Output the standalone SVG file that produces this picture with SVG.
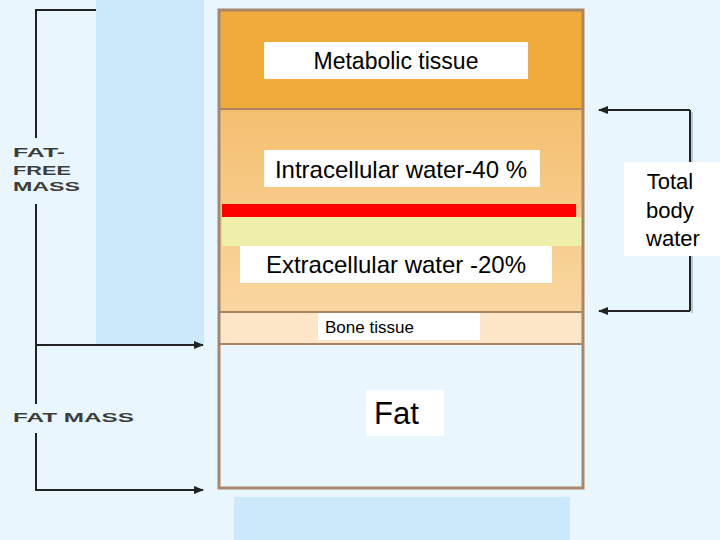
<svg xmlns="http://www.w3.org/2000/svg" width="720" height="540" viewBox="0 0 720 540">
  <defs>
    <style>
      .lbl { fill: #ffffff; }
      .t { font-family: "Liberation Sans", Arial, sans-serif; fill: #000000; }
      .side { font-family: "Liberation Sans", Arial, sans-serif; font-weight: bold; font-size: 12px; fill: #3c3c3c; }
      .conn { stroke: #222222; stroke-width: 2; fill: none; }
      .shadow { stroke: #b8c8d2; stroke-width: 2; fill: none; }
      .div { stroke: #a8835e; stroke-width: 2; }
    </style>
    <marker id="arr" viewBox="0 0 10 10" refX="9" refY="5" markerWidth="5" markerHeight="5" orient="auto" markerUnits="strokeWidth">
      <path d="M0,1 L10,5 L0,9 z" fill="#222222"/>
    </marker>
    <linearGradient id="water" x1="0" y1="0" x2="0" y2="1">
      <stop offset="0" stop-color="#f4bf70"/>
      <stop offset="1" stop-color="#f9d6a0"/>
    </linearGradient>
  </defs>

  <!-- background -->
  <rect x="0" y="0" width="720" height="540" fill="#e9f6fd"/>
  <rect x="96" y="0" width="108" height="344" fill="#cbe9fb"/>
  <rect x="234" y="497" width="336" height="43" fill="#cbe9fb"/>

  <g id="connectors">
    <polyline class="conn" points="96,10 36,10 36,138"/>
    <line class="conn" x1="36" y1="204" x2="36" y2="404"/>
    <line class="conn" x1="36" y1="345" x2="203" y2="345" marker-end="url(#arr)"/>
    <polyline class="conn" points="36,433 36,490 203,490" marker-end="url(#arr)"/>
    <line class="shadow" x1="692" y1="112" x2="692" y2="313"/>
    <line class="conn" x1="690" y1="110" x2="690" y2="311"/>
    <line class="conn" x1="690" y1="110" x2="599" y2="110" marker-end="url(#arr)"/>
    <line class="conn" x1="690" y1="311" x2="599" y2="311" marker-end="url(#arr)"/>
  </g>

  <!-- column sections -->
  <g id="metabolic">
    <rect x="219" y="10" width="364" height="99" fill="#f0ab3b"/>
    <rect class="lbl" x="264" y="42" width="264" height="37"/>
    <text class="t" x="396" y="69" font-size="23" text-anchor="middle">Metabolic tissue</text>
  </g>
  <g id="intracellular">
    <rect x="219" y="109" width="364" height="203" fill="url(#water)"/>
    <rect class="lbl" x="264" y="150" width="276" height="37"/>
    <text class="t" x="401" y="178" font-size="24" text-anchor="middle">Intracellular water-40 %</text>
  </g>
  <g id="membrane">
    <rect x="222" y="204" width="354" height="13" fill="#ff0000"/>
    <rect x="222" y="217" width="360" height="29" fill="#eef0a9"/>
  </g>
  <g id="extracellular">
    <rect class="lbl" x="240" y="246" width="312" height="37"/>
    <text class="t" x="396" y="273" font-size="24" text-anchor="middle">Extracellular water -20%</text>
  </g>
  <g id="bone">
    <rect x="219" y="312" width="364" height="32" fill="#fde5c8"/>
    <rect class="lbl" x="318" y="312" width="162" height="28"/>
    <text class="t" x="325" y="333" font-size="17">Bone tissue</text>
  </g>
  <g id="fat">
    <rect x="219" y="344" width="364" height="144" fill="#e9f6fd"/>
    <rect class="lbl" x="366" y="390" width="78" height="46"/>
    <text class="t" x="374" y="424" font-size="31">Fat</text>
  </g>
  <g id="column-frame">
    <line class="div" x1="219" y1="109" x2="583" y2="109"/>
    <line class="div" x1="219" y1="312" x2="583" y2="312"/>
    <line class="div" x1="219" y1="344" x2="583" y2="344"/>
    <rect x="219" y="10" width="364" height="478" fill="none" stroke="#a8866a" stroke-width="3"/>
  </g>

  <g id="total-body-water">
    <rect class="lbl" x="624" y="162" width="96" height="94"/>
    <text class="t" font-size="22" text-anchor="middle">
      <tspan x="673" y="189">Total</tspan>
      <tspan x="673" y="218">body</tspan>
      <tspan x="673" y="246">water</tspan>
    </text>
  </g>

  <g id="fat-free-mass">
    <text class="side" x="13" y="157" textLength="52" lengthAdjust="spacingAndGlyphs">FAT-</text>
    <text class="side" x="13" y="175" textLength="58" lengthAdjust="spacingAndGlyphs">FREE</text>
    <text class="side" x="13" y="191" textLength="67" lengthAdjust="spacingAndGlyphs">MASS</text>
  </g>
  <g id="fat-mass">
    <text class="side" x="13" y="422" textLength="121" lengthAdjust="spacingAndGlyphs">FAT MASS</text>
  </g>
</svg>
